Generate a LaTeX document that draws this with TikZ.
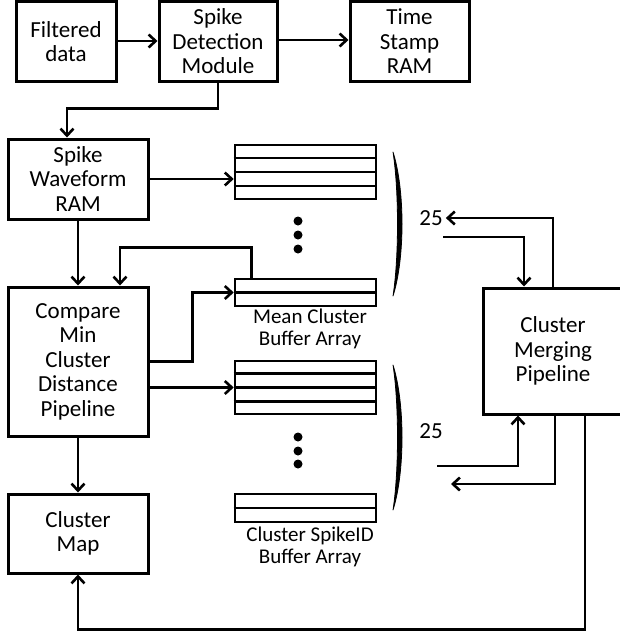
\documentclass[tikz,border=0pt]{standalone}
\usepackage{fontspec}
\setmainfont{Carlito}
\usetikzlibrary{arrows.meta,calc}
\begin{document}
\begin{tikzpicture}[x=1pt,y=-1pt,
  box/.style={draw,line width=3pt,align=center,inner sep=0pt,font=\fontsize{23}{24.5}\selectfont},
  buf/.style={draw,line width=2.6pt,minimum width=141pt,inner sep=0pt},
  bufline/.style={line width=2.6pt},
  lbl/.style={align=center,inner sep=0pt,font=\fontsize{21}{22}\selectfont},
  num/.style={inner sep=1pt,font=\fontsize{23}{24}\selectfont},
  arr/.style={line width=2.6pt,-{Straight Barb[length=7pt,width=13pt]}},
  dot/.style={fill,circle,inner sep=0pt,minimum size=9pt},
  paren/.style={fill,draw,line width=0.8pt,line join=round}
]
\useasboundingbox (0,0) rectangle (620,634);

% boxes
\node[box,minimum width=100pt,minimum height=79pt] (fd) at (66,41.5) {Filtered\\data};
\node[box,minimum width=118pt,minimum height=79pt] (sdm) at (218,41.5) {Spike\\Detection\\Module};
\node[box,minimum width=119pt,minimum height=79pt] (tsr) at (409.5,41.5) {Time\\Stamp\\RAM};
\node[box,minimum width=140pt,minimum height=80pt] (swr) at (78,179) {Spike\\Waveform\\RAM};
\node[box,minimum width=140pt,minimum height=149pt] (cmp) at (78,361.5) {Compare\\Min\\Cluster\\Distance\\Pipeline};
\node[box,minimum width=140pt,minimum height=79pt] (cmap) at (78,533.5) {Cluster\\Map};
\node[box,minimum width=140pt,minimum height=126pt] (cm) at (553,351) {Cluster\\Merging\\Pipeline};

% buffers
\node[buf,minimum height=54pt] (mb1) at (305.5,172) {};
\node[buf,minimum height=27pt] (mb2) at (305.5,292.5) {};
\node[buf,minimum height=53pt] (sb1) at (305.5,387.5) {};
\node[buf,minimum height=28pt] (sb2) at (305.5,508) {};
\foreach \n in {mb1,sb1}{
  \foreach \f in {0.25,0.5,0.75}
    \draw[bufline] ($(\n.north west)!\f!(\n.south west)$) -- ($(\n.north east)!\f!(\n.south east)$);
}
\foreach \n in {mb2,sb2}
  \draw[bufline] (\n.west) -- (\n.east);

% dots
\foreach \y [count=\i] in {221,235,249} \node[dot] (du\i) at (298,\y) {};
\foreach \y [count=\i] in {437,451,464} \node[dot] (dl\i) at (298,\y) {};

% brackets
\fill[paren] (393,152) .. controls (405,190) and (405,258) .. (393,296)
  .. controls (399,258) and (399,190) .. (393,152) -- cycle;
\fill[paren] (393,365) .. controls (405,403) and (405,472) .. (393,510)
  .. controls (399,472) and (399,403) .. (393,365) -- cycle;

% labels
\node[lbl] (mcl) at (310,329) {Mean Cluster\\Buffer Array};
\node[lbl] (sil) at (310,547) {Cluster SpikeID\\Buffer Array};
\node[num] (t1) at (431,218) {25};
\node[num] (t2) at (431,431) {25};

% free ends
\coordinate (s1) at (443,237);
\coordinate (s2) at (437,466);
\coordinate (e2) at (451,484);

% connectors
\draw[arr] (fd.east |- 0,41) -- (sdm.west |- 0,41);
\draw[arr] (sdm.east |- 0,40) -- (tsr.west |- 0,40);
\draw[arr] (sdm.south) -- ++(0,26) -| ([xshift=-11pt]swr.north);
\draw[arr] (swr.east) -- (swr.east -| mb1.west);
\draw[arr] (swr.south) -- (cmp.north);
\draw[arr] ([xshift=18pt]mb2.north west) -- ++(0,-30) -| ([xshift=42pt]cmp.north);
\draw[arr] (cmp.east) -- ++(43,0) |- (mb2.west);
\draw[arr] (cmp.east |- sb1.west) -- (sb1.west);
\draw[arr] (cmp.south) -- (cmap.north);
\draw[arr] (cm.north) |- ([xshift=2pt]t1.east);
\draw[arr] (s1) -| ([xshift=-29pt]cm.north);
\draw[arr] (s2) -| ([xshift=-35pt]cm.south);
\draw[arr] ([xshift=2pt]cm.south) |- (e2);
\draw[arr] ([xshift=32pt]cm.south) -- ++(0,214) -| (cmap.south);
\end{tikzpicture}
\end{document}
